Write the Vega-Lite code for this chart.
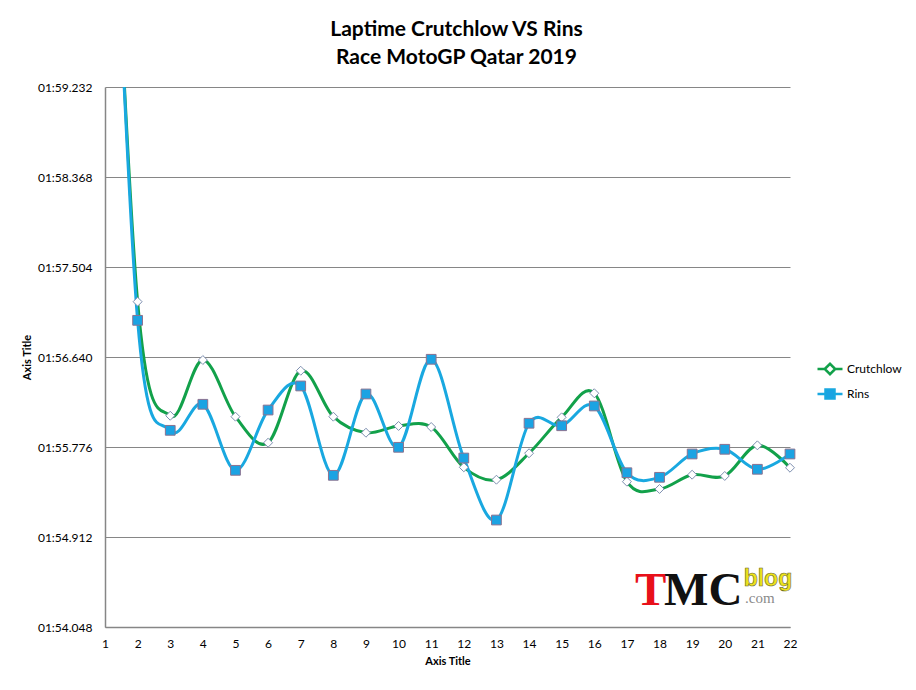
{
  "$schema": "https://vega.github.io/schema/vega-lite/v6.json",
  "autosize": "none",
  "width": 685,
  "height": 540,
  "padding": {"left": 105, "top": 87, "right": 126, "bottom": 63},
  "background": "white",
  "config": {
    "font": "Lato",
    "view": {"stroke": null},
    "axis": {"labelFont": "Lato", "titleFont": "Lato", "labelColor": "#000000", "titleColor": "#000000"}
  },
  "title": {
    "text": ["Laptime Crutchlow VS Rins", "Race MotoGP Qatar 2019"],
    "font": "Lato",
    "fontSize": 21,
    "fontWeight": "bold",
    "color": "#000000",
    "anchor": "middle",
    "frame": "group",
    "dx": 9,
    "offset": 13,
    "lineHeight": 28
  },
  "data": {
    "values": [
      {"lap": 1, "series": "Crutchlow", "time": 123.2},
      {"lap": 2, "series": "Crutchlow", "time": 117.171},
      {"lap": 3, "series": "Crutchlow", "time": 116.076},
      {"lap": 4, "series": "Crutchlow", "time": 116.611},
      {"lap": 5, "series": "Crutchlow", "time": 116.067},
      {"lap": 6, "series": "Crutchlow", "time": 115.817},
      {"lap": 7, "series": "Crutchlow", "time": 116.508},
      {"lap": 8, "series": "Crutchlow", "time": 116.067},
      {"lap": 9, "series": "Crutchlow", "time": 115.913},
      {"lap": 10, "series": "Crutchlow", "time": 115.978},
      {"lap": 11, "series": "Crutchlow", "time": 115.968},
      {"lap": 12, "series": "Crutchlow", "time": 115.581},
      {"lap": 13, "series": "Crutchlow", "time": 115.462},
      {"lap": 14, "series": "Crutchlow", "time": 115.716},
      {"lap": 15, "series": "Crutchlow", "time": 116.061},
      {"lap": 16, "series": "Crutchlow", "time": 116.292},
      {"lap": 17, "series": "Crutchlow", "time": 115.443},
      {"lap": 18, "series": "Crutchlow", "time": 115.373},
      {"lap": 19, "series": "Crutchlow", "time": 115.510},
      {"lap": 20, "series": "Crutchlow", "time": 115.498},
      {"lap": 21, "series": "Crutchlow", "time": 115.792},
      {"lap": 22, "series": "Crutchlow", "time": 115.577},
      {"lap": 1, "series": "Rins", "time": 123.4},
      {"lap": 2, "series": "Rins", "time": 116.992},
      {"lap": 3, "series": "Rins", "time": 115.936},
      {"lap": 4, "series": "Rins", "time": 116.186},
      {"lap": 5, "series": "Rins", "time": 115.552},
      {"lap": 6, "series": "Rins", "time": 116.131},
      {"lap": 7, "series": "Rins", "time": 116.362},
      {"lap": 8, "series": "Rins", "time": 115.504},
      {"lap": 9, "series": "Rins", "time": 116.285},
      {"lap": 10, "series": "Rins", "time": 115.773},
      {"lap": 11, "series": "Rins", "time": 116.618},
      {"lap": 12, "series": "Rins", "time": 115.670},
      {"lap": 13, "series": "Rins", "time": 115.075},
      {"lap": 14, "series": "Rins", "time": 116.004},
      {"lap": 15, "series": "Rins", "time": 115.980},
      {"lap": 16, "series": "Rins", "time": 116.170},
      {"lap": 17, "series": "Rins", "time": 115.529},
      {"lap": 18, "series": "Rins", "time": 115.485},
      {"lap": 19, "series": "Rins", "time": 115.709},
      {"lap": 20, "series": "Rins", "time": 115.754},
      {"lap": 21, "series": "Rins", "time": 115.562},
      {"lap": 22, "series": "Rins", "time": 115.709}
    ]
  },
  "encoding": {
    "x": {
      "field": "lap",
      "type": "quantitative",
      "scale": {"domain": [1, 22], "nice": false, "zero": false},
      "axis": {
        "title": "Axis Title",
        "titleFontSize": 11,
        "titleFontWeight": "bold",
        "titlePadding": 6,
        "values": [1,2,3,4,5,6,7,8,9,10,11,12,13,14,15,16,17,18,19,20,21,22],
        "grid": false,
        "ticks": false,
        "labelFontSize": 12,
        "labelPadding": 11,
        "labelFlush": false,
        "labelOverlap": false,
        "domainColor": "#868686",
        "domainWidth": 1.5
      }
    },
    "y": {
      "field": "time",
      "type": "quantitative",
      "scale": {"domain": [114.048, 119.232], "nice": false, "zero": false},
      "axis": {
        "title": "Axis Title",
        "titleFontSize": 11,
        "titleFontWeight": "bold",
        "titlePadding": 5,
        "values": [114.048, 114.912, 115.776, 116.64, 117.504, 118.368, 119.232],
        "labelExpr": "'0' + floor(datum.value / 60) + ':' + format(datum.value - 60 * floor(datum.value / 60), '06.3f')",
        "grid": true,
        "gridColor": "#868686",
        "gridWidth": 1,
        "ticks": false,
        "labelFontSize": 12,
        "labelPadding": 13,
        "labelFlush": false,
        "labelOverlap": false,
        "domainColor": "#868686",
        "domainWidth": 1.5
      }
    }
  },
  "layer": [
    {
      "mark": {"type": "line", "interpolate": "cardinal", "strokeWidth": 3, "clip": true},
      "encoding": {
        "stroke": {
          "field": "series",
          "type": "nominal",
          "scale": {"domain": ["Crutchlow", "Rins"], "range": ["#12A14A", "#19A8E0"]},
          "legend": {
            "title": null,
            "orient": "none",
            "legendX": 711,
            "legendY": 268,
            "symbolType": "stroke",
            "symbolSize": 625,
            "symbolStrokeWidth": 3,
            "labelFontSize": 12,
            "labelFont": "Lato",
            "labelColor": "#000000",
            "labelOffset": 3,
            "rowPadding": -2,
            "encode": {
              "symbols": {
                "update": {
                  "shape": {"signal": "datum.value === 'Crutchlow' ? 'M-1,0H-0.44M0.44,0H1M-0.42,0L0,-0.42L0.42,0L0,0.42Z' : 'M-1,0H-0.4M0.4,0H1M-0.36,-0.36H0.36V0.36H-0.36Z'"},
                  "fill": {"signal": "datum.value === 'Crutchlow' ? '#ffffff' : '#1BA3E3'"},
                  "strokeWidth": {"value": 2.5}
                }
              }
            }
          }
        }
      }
    },
    {
      "transform": [{"filter": "datum.series === 'Crutchlow' && datum.lap > 1"}],
      "mark": {"type": "point", "shape": "diamond", "filled": true, "fill": "#ffffff", "stroke": "#7E8FB0", "strokeWidth": 1, "size": 80, "opacity": 1, "clip": false}
    },
    {
      "transform": [{"filter": "datum.series === 'Rins' && datum.lap > 1"}],
      "mark": {"type": "point", "shape": "square", "filled": true, "fill": "#1BA3E3", "stroke": "#8C7290", "strokeWidth": 1, "size": 95, "opacity": 1, "clip": false}
    },
    {
      "transform": [{"filter": "datum.lap === 22 && datum.series === 'Rins'"}],
      "mark": {"type": "text", "text": "T", "font": "Liberation Serif", "fontWeight": "bold", "fontSize": 47, "color": "#E8101A", "align": "left", "baseline": "alphabetic"},
      "encoding": {"x": {"datum": 17.25}, "y": {"datum": 114.259}}
    },
    {
      "transform": [{"filter": "datum.lap === 22 && datum.series === 'Rins'"}],
      "mark": {"type": "text", "text": "MC", "font": "Liberation Serif", "fontWeight": "bold", "fontSize": 47, "color": "#111111", "align": "left", "baseline": "alphabetic"},
      "encoding": {"x": {"datum": 18.14}, "y": {"datum": 114.259}}
    },
    {
      "transform": [{"filter": "datum.lap === 22 && datum.series === 'Rins'"}],
      "mark": {"type": "text", "text": "blog", "font": "Liberation Sans", "fontWeight": "bold", "fontSize": 23, "color": "#EDE21B", "stroke": "#6B6B2A", "strokeWidth": 0.6, "align": "left", "baseline": "alphabetic"},
      "encoding": {"x": {"datum": 20.58}, "y": {"datum": 114.44}}
    },
    {
      "transform": [{"filter": "datum.lap === 22 && datum.series === 'Rins'"}],
      "mark": {"type": "text", "text": ".com", "font": "Liberation Serif", "fontSize": 15, "color": "#8A8A8A", "align": "left", "baseline": "alphabetic"},
      "encoding": {"x": {"datum": 20.62}, "y": {"datum": 114.28}}
    }
  ]
}
